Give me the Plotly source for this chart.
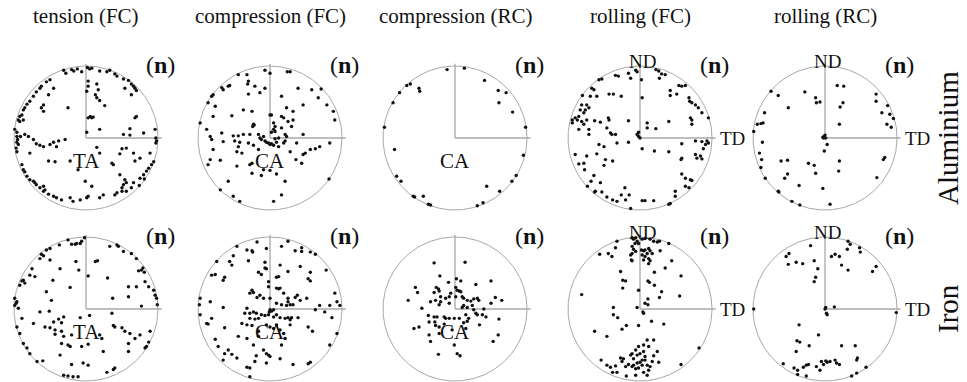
import numpy as np
import plotly.graph_objects as go

# Pole-figure points (x, y) in percent of the projection radius.
AL_TENSION_FC = [
    (-31, 94), (-28, 90), (-20, 95), (-17, 93), (-12, 96), (-6, 92), (2, 98), (5, 96), (8, 97), (19, 93),
    (29, 92), (33, 94), (40, 89), (43, 86), (52, 82), (59, 80), (63, 75), (66, 72), (68, 69), (70, 66),
    (-50, 81), (-55, 78), (-62, 72), (-64, 69), (-69, 64), (-73, 58), (-45, 69), (-52, 60), (-78, 51), (-82, 47),
    (-85, 42), (-87, 39), (-89, 32), (-92, 30), (-94, 25), (-87, 25), (-92, 23), (-59, 46), (-62, 42), (-59, 37),
    (-25, 42), (3, 79), (3, 72), (15, 75), (17, 67), (1, 65), (13, 60), (15, 56), (19, 52), (26, 45),
    (6, 30), (8, 28), (3, 28), (10, 29), (1, 8), (19, 12), (54, 69), (63, 60), (70, 30), (68, 28),
    (61, 13), (52, 5), (61, 4), (80, 7), (96, 12), (97, 0), (98, -4), (97, -7),
    (-99, 12), (-96, 8), (-96, 2), (-95, -2), (-96, -6), (-94, -9), (-97, -14), (-96, -19), (-91, 2), (-85, 5),
    (-80, 2), (-73, -2), (-69, -8), (-64, -10), (-59, -12), (-50, -9), (-41, -12), (-45, -6), (-38, -4), (-29, -2),
    (-78, -21), (-52, -32), (-43, -33), (-22, -32), (-11, -44), (15, -13), (19, -21), (36, -35), (38, -37), (47, -22),
    (50, -15), (56, -14), (66, -21), (68, -32), (75, -28), (89, -21), (94, -33), (47, -51),
    (-89, -37), (-87, -44), (-85, -47), (-82, -53), (-78, -58), (-73, -60), (-71, -62), (-69, -65), (-64, -69), (-59, -67),
    (-57, -72), (-59, -74), (-52, -78), (-45, -81), (-41, -83), (-34, -86),
    (-1, -60), (8, -67), (-22, -83), (1, -83), (3, -81), (-8, -86), (19, -83), (24, -79), (-18, -88),
    (54, -58), (56, -62), (52, -65), (50, -69), (66, -62), (63, -69), (56, -74), (50, -74), (43, -76), (40, -79),
    (75, -56), (80, -51), (84, -46), (87, -42), (91, -37), (81, -57), (74, -66),
]

AL_COMPRESSION_FC = [
    (-7, 94), (0, 90), (24, 92), (28, 92), (-44, 88), (-32, 88), (-30, 79), (-31, 75), (-21, 72), (-7, 69),
    (-14, 63), (-30, 61), (-56, 73), (-58, 72), (-67, 70), (-65, 67), (-79, 60), (-81, 58), (-86, 49), (-76, 44),
    (-79, 30), (-97, 21), (-53, 31), (-37, 39), (-25, 37),
    (39, 69), (58, 67), (71, 68), (67, 56), (46, 46), (79, 46), (88, 37), (90, 25), (16, 58), (23, 42),
    (32, 37), (16, 30), (19, 28), (25, 23), (32, 25), (30, 16), (46, 5), (16, 14), (2, 32), (0, 32),
    (5, 21), (7, 16), (5, 12), (7, 9), (2, 8), (21, 5), (23, 2),
    (-23, 19), (-22, 18), (-24, 16), (-51, 3), (-44, 3), (-37, 5), (-28, 5), (-16, 5), (-9, 2), (-14, 0),
    (-12, -2), (-7, -4), (-5, -6), (-2, -7), (0, -9), (2, -8), (5, -10), (9, -6), (12, -12), (19, -7),
    (21, -4), (12, 0), (7, -1),
    (-88, 12), (-83, 2), (-81, -2), (-67, 7), (-65, -5), (-49, -4), (-42, -6), (-44, -12), (-30, -7), (-23, -10),
    (-16, -16), (-39, -21), (-46, -19), (-79, -16), (-83, -30), (-86, -37), (-69, -31),
    (37, -7), (49, -21), (46, -23), (56, -16), (63, -15), (69, -12), (83, -7), (28, -19), (36, -30), (44, -35),
    (-46, -39), (-25, -35), (-28, -37), (-9, -44), (0, -45), (9, -50), (-25, -49), (-12, -52), (21, -60), (-58, -60),
    (-69, -72), (-51, -81), (-42, -88), (16, -79), (5, -88), (82, -57),
]

AL_COMPRESSION_RC = [
    (-11, 95), (13, 97), (41, 80), (60, 66), (71, 63), (61, 49), (80, 36), (98, 15), (95, -24), (85, -52),
    (79, -60), (62, -74), (44, -67), (39, -90), (31, -94), (-34, -93), (-37, -92), (-44, -81), (-56, -82), (-58, -81),
    (-75, -60), (-81, -53), (-84, -16), (-98, 15), (-86, 49), (-77, 63), (-67, 73), (-62, 75), (-50, 69), (-49, 65),
]

AL_ROLLING_FC = [
    (-16, 90), (-6, 94), (-4, 92), (2, 81), (-13, 83), (-34, 87), (-30, 86), (-57, 81), (-53, 82), (-67, 69),
    (-64, 67), (-69, 58), (-60, 58), (-80, 59), (-43, 61), (-37, 61), (-26, 58), (3, 56), (22, 95), (26, 93),
    (30, 89), (35, 88), (27, 83), (54, 73), (58, 72), (63, 73), (42, 66), (42, 59), (51, 61), (68, 56),
    (69, 51), (72, 49), (77, 46), (81, 42), (86, 35), (95, 28), (70, 28), (72, 25), (72, 19), (40, 23),
    (22, 13), (10, 21), (10, 14),
    (-81, 46), (-74, 46), (-71, 42), (-76, 39), (-83, 39), (-78, 35), (-85, 30), (-90, 28), (-94, 25), (-94, 21),
    (-87, 25), (-81, 23), (-78, 19), (-74, 25), (-63, 24), (-55, 22), (-44, 28), (-43, 25), (-16, 24), (-46, 14),
    (-85, 12), (-71, 12), (-71, 5), (-41, 7), (-39, 5), (-34, 5), (-32, -7), (-57, -9), (-50, -12), (-16, -6),
    (-2, 8), (-4, 5), (-2, 2), (0, 0), (3, -15),
    (58, -8), (77, -4), (86, -5), (93, -4), (95, -7), (91, -9), (88, -15), (77, -23), (84, -25), (79, -28),
    (86, -29), (58, -28), (57, -30), (40, -19), (20, -18),
    (-90, -23), (-74, -25), (-60, -22), (-48, -30), (-85, -36), (-78, -35), (-77, -44), (-50, -38), (-38, -32), (-64, -52),
    (-68, -60), (-73, -67), (-62, -74), (-63, -75), (-53, -75), (-55, -62), (-46, -82), (-38, -86), (-32, -88), (-21, -69),
    (-26, -79), (-20, -86), (-15, -79), (-13, -98), (3, -87), (7, -87), (19, -87),
    (58, -50), (63, -56), (70, -58), (72, -59), (63, -67), (68, -69), (49, -74), (49, -81), (40, -92), (42, -91),
]

AL_ROLLING_RC = [
    (17, 73), (26, 72), (21, 43), (25, 49), (20, 19), (-13, 56), (-12, 49), (-7, 50), (-28, 64), (-65, 59),
    (-75, 65), (-51, 42), (-84, 35), (-86, 21), (-89, 20), (-94, 19), (-99, 9), (-87, -6), (-91, -21), (-88, -30),
    (-89, -41), (-83, -56), (-65, -74), (-64, -75), (-46, -88), (-35, -93), (7, -92), (-3, -70), (-36, -66), (-56, -56),
    (-52, -50), (-61, -32), (-52, -31), (-23, -35), (-15, -38), (-13, -49), (20, -32), (19, -46), (-1, -18), (3, -9),
    (-3, 1), (-1, 2), (-2, 0), (0, 4), (1, 0), (71, 61), (71, 51), (87, 45), (79, 35), (90, 33),
    (95, 27), (86, 19), (92, 15), (81, -30), (83, -27), (72, -55),
]

FE_TENSION_FC = [
    (-25, 96), (-20, 90), (-15, 90), (-13, 91), (-8, 91), (-6, 94), (-2, 99), (-37, 89), (-50, 84), (-55, 82),
    (-62, 76), (-59, 74), (-64, 70), (-50, 68), (-36, 56), (-14, 66), (-10, 54), (13, 66), (16, 67), (33, 87),
    (43, 89), (45, 87), (52, 80), (63, 77), (70, 70), (73, 53), (77, 54), (79, 57), (81, 51), (3, 46),
    (30, 43), (59, 31), (70, 31), (82, 38), (87, 31), (94, 26), (96, 19), (98, 15), (99, 6), (37, 15),
    (59, 17), (77, 4),
    (-75, 56), (-78, 47), (-87, 40), (-89, 39), (-85, 36), (-92, 33), (-99, 15), (-96, 10), (-97, 8), (-99, 5),
    (-94, 1), (-71, 45), (-46, 40), (-22, 30), (-55, 24), (-48, 12), (-64, -4), (-51, -3), (-45, -18), (-38, -14),
    (-31, -11), (-34, -19), (-8, -12), (5, -9), (36, -6), (-73, -20), (-89, -13), (-96, -25), (-92, -34), (-87, -48),
    (-82, -54), (-78, -62), (-68, -73), (-60, -72), (-57, -25), (-50, -26), (-43, -29), (-34, -31), (-31, -38), (-43, -35),
    (-20, -36), (-34, -48), (-25, -50), (-22, -52), (-6, -52), (3, -49), (-36, -64), (-20, -77), (-4, -75), (3, -78),
    (-31, -92), (-25, -93), (-18, -94), (-11, -94),
    (38, -23), (40, -25), (50, -26), (54, -31), (61, -34), (19, -36), (22, -41), (24, -59), (59, -48), (68, -41),
    (75, -36), (89, -31), (84, -52), (82, -54), (87, -46), (59, -59), (40, -82), (38, -84), (29, -88),
]

FE_COMPRESSION_FC = [
    (-18, 93), (25, 94), (-5, 84), (16, 87), (35, 81), (44, 85), (44, 80), (56, 79), (63, 76), (-46, 87),
    (-32, 82), (-25, 81), (-24, 79), (-51, 74), (-30, 67), (-7, 65), (-7, 57), (-5, 56), (-16, 51), (-12, 48),
    (14, 61), (9, 44), (12, 45), (25, 52), (42, 59), (56, 51), (53, 42), (56, 39), (78, 54), (-74, 66),
    (-76, 48), (-81, 47), (-56, 66), (-53, 61), (-63, 44), (-65, 40), (-2, 38), (-2, 31), (-25, 26), (-28, 22),
    (-23, 23),
    (-14, 19), (-18, 16), (-9, 15), (0, 15), (9, 29), (12, 28), (14, 29), (19, 22), (25, 15), (35, 16),
    (38, 19), (42, 12), (51, 15), (25, 10), (28, 6), (32, 6), (23, 5), (16, 6), (9, 8),
    (0, -1), (2, -3), (-1, -4), (5, -1), (-32, 1), (-35, -6), (-28, -6), (-23, -4), (-19, -6), (-12, -8),
    (-7, -9), (-2, -8), (5, -11), (9, -8), (14, -12), (21, -13), (25, -12), (30, -12), (39, -12), (28, -15),
    (-28, -13), (-21, -14), (-16, -13), (-39, -20), (-32, -22), (-25, -23), (-16, -31), (-16, -38), (-5, -22), (0, -25),
    (5, -27), (9, -22), (14, -29), (19, -34), (21, -41), (16, -50), (28, -22),
    (63, -1), (69, 5), (76, -4), (83, 5), (90, 22), (93, 10), (97, 5), (86, -12), (59, -31), (53, -25),
    (93, -34),
    (-97, 15), (-98, 6), (-97, -8), (-83, 10), (-88, -20), (-81, -13), (-86, -21), (-65, 2), (-63, -26), (-76, -42),
    (-72, -52), (-58, -57), (-44, -38), (-32, -41), (-23, -50), (-9, -57), (-19, -65), (-21, -73), (-32, -81), (-28, -82),
    (-65, -71), (-63, -62), (-53, -63), (-46, -68), (-5, -62), (-2, -64), (0, -66), (-5, -75), (-28, -94), (14, -69),
    (32, -77), (53, -76), (56, -74), (83, -50),
]

FE_COMPRESSION_RC = [
    (-29, 64), (14, 65), (-21, 46), (-9, 37), (2, 42), (8, 39), (29, 34), (50, 39), (-26, 30), (-23, 28),
    (-22, 25), (-29, 23), (1, 30), (3, 26), (6, 25), (8, 24), (-55, 30), (-52, 23), (-65, 12), (-46, 1),
    (-34, 10), (-27, 12), (-20, 17), (-13, 15), (-8, 17), (-6, 22), (1, 17), (10, 17), (12, 15), (17, 12),
    (22, 11), (26, 14), (31, 15), (33, 12), (56, 16), (65, 12), (50, 8), (-22, 6), (-20, 10), (-8, 8),
    (12, 5), (10, 2), (17, 2), (24, 5), (26, -1), (29, -6), (31, -8), (38, -8), (40, 0), (43, -11),
    (61, -14), (-37, -9), (-29, -11), (-25, -11), (-15, -11), (-13, -13), (-8, -13), (6, -13), (-1, -13), (15, -8),
    (19, -13), (17, -17), (12, -19), (-36, -18), (-28, -18), (-22, -25), (-22, -34), (-15, -21), (-27, -23), (-4, -29),
    (15, -27), (34, -22), (-57, -27), (-50, -25), (-36, -36), (-34, -45), (-1, -50), (3, -62), (7, -65), (-23, -63),
    (53, -45), (60, -36),
]

FE_ROLLING_FC = [
    (-32, 94), (-11, 99), (-9, 97), (-6, 99), (-4, 94), (-2, 91), (-7, 91), (3, 97), (7, 98), (14, 97),
    (19, 94), (24, 93), (27, 94), (40, 91), (-11, 87), (-9, 83), (-6, 80), (-11, 77), (-13, 75), (-12, 68),
    (-11, 67), (2, 82), (5, 81), (7, 82), (12, 84), (14, 81), (17, 77), (10, 77), (7, 73), (12, 70),
    (14, 67), (5, 68), (3, 75), (12, 63), (-56, 76), (-44, 77), (-39, 73), (-34, 85), (28, 81), (44, 67),
    (35, 57), (20, 51), (11, 39), (13, 37), (20, 33), (57, 46), (-27, 52), (-24, 40), (-20, 39), (-24, 29),
    (-2, 26), (30, 24), (27, 16), (11, 14), (7, 8), (11, 6), (55, 18),
    (-81, 20), (-37, 2), (-4, 2), (4, -4), (5, -6), (-37, -8), (-31, -12), (-19, -23), (-25, -28), (-2, -23),
    (16, -17), (33, -21), (-63, -31), (-46, -38),
    (10, -43), (19, -43), (5, -50), (12, -52), (-2, -52), (-6, -57), (-11, -62), (-13, -64), (-9, -69), (-4, -64),
    (0, -62), (5, -59), (7, -66), (7, -71), (3, -71), (0, -74), (-4, -75), (-9, -78), (-11, -80), (-6, -83),
    (-2, -82), (3, -78), (10, -78), (14, -80), (12, -85), (5, -88), (10, -92), (-16, -77), (-23, -69), (-27, -68),
    (-25, -73), (-20, -80), (17, -73), (26, -74), (-34, -79), (-41, -81), (-46, -78), (-54, -71), (-38, -88), (-32, -88),
    (-19, -93), (-6, -92), (19, -65), (24, -59), (82, -54), (57, -77),
]

FE_ROLLING_RC = [
    (-20, 88), (32, 94), (35, 90), (31, 83), (48, 85), (49, 79), (14, 76), (9, 73), (20, 73), (23, 61),
    (32, 54), (71, 59), (66, 52), (-54, 73), (-50, 77), (-51, 62), (-40, 65), (-31, 63), (-15, 67), (-10, 56),
    (-13, 44), (-15, 38), (1, 2), (0, 0), (2, -6), (3, -8), (13, 3), (99, -5), (-99, 0), (-36, -22),
    (-9, -36), (-39, -44), (-35, -46), (-40, -59), (-22, -51), (23, -51), (42, -51), (45, -68), (44, -71), (-58, -76),
    (-43, -82), (-38, -85), (-30, -81), (-26, -78), (-23, -77), (-38, -91), (-26, -93), (-12, -80), (-7, -85), (-5, -73),
    (-2, -77), (1, -72), (3, -74), (7, -73), (14, -71), (16, -75), (20, -77), (57, -81), (44, -89), (37, -93),
]

COLUMN_TITLES = ["tension (FC)", "compression (FC)", "compression (RC)", "rolling (FC)", "rolling (RC)"]
ROW_TITLES = ["Aluminium", "Iron"]
CENTRE_LABELS = ["TA", "CA", "CA", None, None]
ROLLING_COLUMNS = [3, 4]

PANELS = [
    [AL_TENSION_FC, AL_COMPRESSION_FC, AL_COMPRESSION_RC, AL_ROLLING_FC, AL_ROLLING_RC],
    [FE_TENSION_FC, FE_COMPRESSION_FC, FE_COMPRESSION_RC, FE_ROLLING_FC, FE_ROLLING_RC],
]

# ---- page geometry (pixels) ----
W, H = 967, 382
R = 72                      # projection radius
COL_CX = [86, 270, 455, 640, 825]
ROW_CY = [138, 309]
HALF_W, HALF_H = 90, 80

SERIF = "Liberation Serif, Times New Roman, serif"
GREY = "#a8a8a8"
INK = "#111111"

fig = go.Figure()
annotations = []
layout_axes = {}

theta = np.linspace(0, 2 * np.pi, 361)

for r, row in enumerate(PANELS):
    for c, pts in enumerate(row):
        n = r * 5 + c + 1
        sfx = "" if n == 1 else str(n)
        xref, yref = "x" + sfx, "y" + sfx
        cx, cy = COL_CX[c], ROW_CY[r]
        left, right = max(0, cx - HALF_W), min(W, cx + HALF_W)
        top, bottom = max(0, cy - HALF_H), min(H, cy + HALF_H)

        layout_axes["xaxis" + sfx] = dict(
            domain=[left / W, right / W], range=[(left - cx) / R, (right - cx) / R],
            visible=False, fixedrange=True, anchor=yref,
        )
        layout_axes["yaxis" + sfx] = dict(
            domain=[1 - bottom / H, 1 - top / H], range=[(cy - bottom) / R, (cy - top) / R],
            visible=False, fixedrange=True, anchor=xref,
        )

        # outer circle of the projection
        fig.add_trace(go.Scatter(
            x=np.cos(theta), y=np.sin(theta), mode="lines",
            line=dict(color=GREY, width=1), hoverinfo="skip", showlegend=False,
            xaxis=xref, yaxis=yref,
        ))
        # reference directions (up and right)
        fig.add_trace(go.Scatter(
            x=[0, 0, None, 0, 1.05], y=[1.03, 0, None, 0, 0], mode="lines",
            line=dict(color=GREY, width=1.3), hoverinfo="skip", showlegend=False,
            xaxis=xref, yaxis=yref,
        ))
        # poles
        arr = np.array(pts, dtype=float) / 100.0
        fig.add_trace(go.Scatter(
            x=arr[:, 0], y=arr[:, 1], mode="markers",
            marker=dict(color=INK, size=3.4, line=dict(width=0)),
            showlegend=False, xaxis=xref, yaxis=yref,
        ))

        annotations.append(dict(
            x=1.04, y=1.02, xref=xref, yref=yref, text="(<b>n</b>)", showarrow=False,
            font=dict(family=SERIF, size=24, color=INK), xanchor="center", yanchor="middle",
        ))
        if CENTRE_LABELS[c]:
            annotations.append(dict(
                x=0, y=-0.32, xref=xref, yref=yref, text=CENTRE_LABELS[c], showarrow=False,
                font=dict(family=SERIF, size=21, color=INK), xanchor="center", yanchor="middle",
            ))
        if c in ROLLING_COLUMNS:
            annotations.append(dict(
                x=0.04, y=1.0, xref=xref, yref=yref, text="ND", showarrow=False, yshift=5,
                font=dict(family=SERIF, size=19, color=INK), xanchor="center", yanchor="middle",
            ))
            annotations.append(dict(
                x=1.05, y=0, xref=xref, yref=yref, text="TD", showarrow=False, xshift=2,
                font=dict(family=SERIF, size=19, color=INK), xanchor="left", yanchor="middle",
            ))

for c, title in enumerate(COLUMN_TITLES):
    annotations.append(dict(
        x=COL_CX[c] / W, y=1 - 16 / H, xref="paper", yref="paper", text=title, showarrow=False,
        font=dict(family=SERIF, size=21, color=INK), xanchor="center", yanchor="middle",
    ))

for r, label in enumerate(ROW_TITLES):
    annotations.append(dict(
        x=948 / W, y=1 - ROW_CY[r] / H, xref="paper", yref="paper", text=label, showarrow=False,
        textangle=-90, font=dict(family=SERIF, size=29, color=INK), xanchor="center", yanchor="middle",
    ))

fig.update_layout(
    width=W, height=H, margin=dict(l=0, r=0, t=0, b=0),
    paper_bgcolor="white", plot_bgcolor="rgba(0,0,0,0)",
    annotations=annotations, **layout_axes,
)

fig.write_html("out.html", include_plotlyjs=True, config={"displayModeBar": False})
